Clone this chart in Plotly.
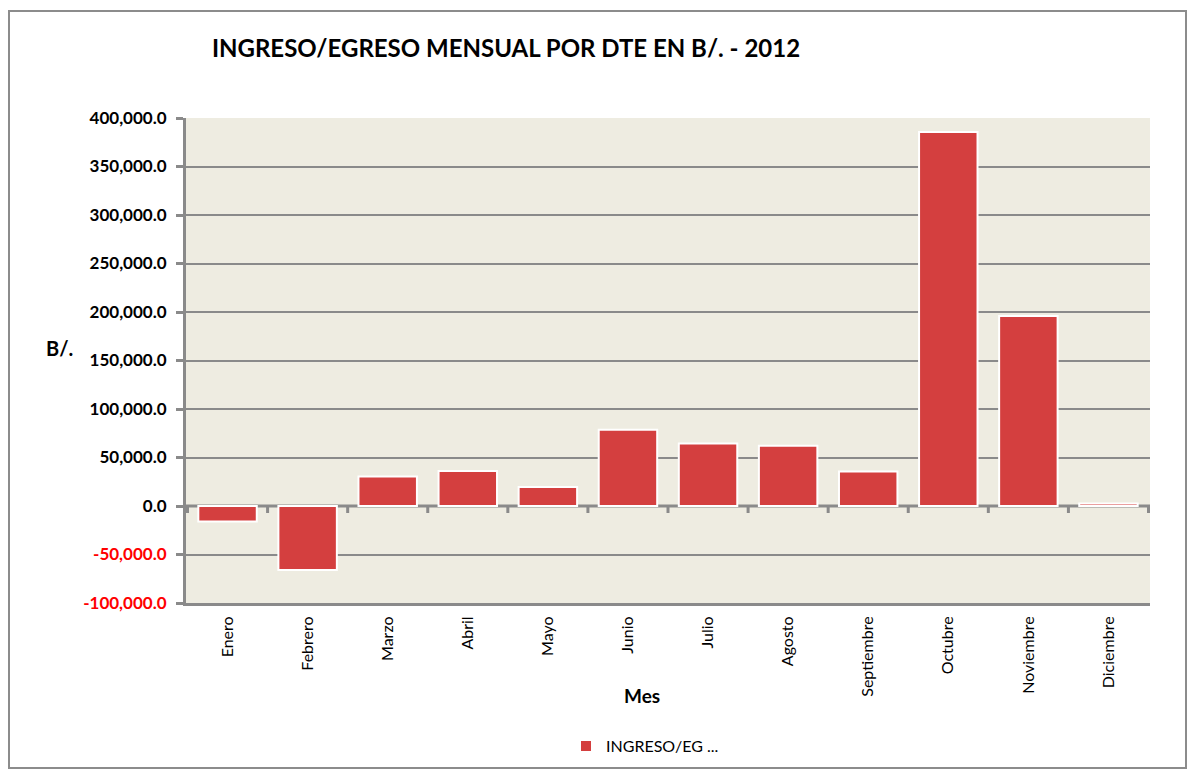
import plotly.graph_objects as go

months = ["Enero", "Febrero", "Marzo", "Abril", "Mayo", "Junio", "Julio",
          "Agosto", "Septiembre", "Octubre", "Noviembre", "Diciembre"]
values = [-16000, -66000, 30500, 36000, 19500, 78500, 64500,
          62000, 35500, 385500, 196000, 2500]
y_ticks = [-100000, -50000, 0, 50000, 100000, 150000, 200000,
           250000, 300000, 350000, 400000]
series_name = "INGRESO/EG ..."

FONT = "Lato"
GRID = "#8a8a8a"

# page has an 8px body margin; work in figure coordinates
OFF = 8
FW, FH = 1195 - 2 * OFF, 777 - 2 * OFF


def tick_label(v):
    s = f"<b>{v:,.1f}</b>"
    if v < 0:
        return f"<span style='color:#ff0000'>{s}</span>"
    return s


fig = go.Figure()
fig.add_trace(go.Bar(
    x=months, y=values, name=series_name,
    marker=dict(color="#d43f3f", line=dict(color="white", width=2)),
    showlegend=True,
))

# Plot geometry in figure pixels
L, R, T, B = 186 - OFF, 1150 - OFF, 118 - OFF, 603 - OFF
W, H = R - L, B - T


def px_x(p):
    return (p - OFF - L) / W


def px_y(p):
    return (B - (p - OFF)) / H


shapes = [
    dict(type="rect", xref="paper", yref="paper",
         x0=px_x(OFF + 1), x1=px_x(1186), y0=px_y(768), y1=px_y(11),
         line=dict(color="#8c8c8c", width=2), fillcolor="rgba(0,0,0,0)",
         layer="below"),
    dict(type="line", xref="paper", yref="y", x0=0, x1=1, y0=0, y1=0,
         line=dict(color=GRID, width=3), layer="below"),
]
for i in range(len(months) + 1):
    shapes.append(dict(type="line", xref="x", yref="paper",
                       x0=i - 0.5, x1=i - 0.5,
                       y0=px_y(506), y1=px_y(513),
                       line=dict(color=GRID, width=3)))

fig.update_layout(
    width=FW, height=FH,
    margin=dict(l=L, r=FW - R, t=T, b=FH - B, autoexpand=False),
    paper_bgcolor="white",
    plot_bgcolor="#eeece1",
    font=dict(family=FONT, color="black"),
    title=dict(text="<b>INGRESO/EGRESO MENSUAL POR DTE EN B/. - 2012</b>",
               x=(506 - OFF) / FW, xanchor="center", xref="container",
               y=1 - (49 - OFF) / FH, yanchor="middle", yref="container",
               font=dict(size=24, family=FONT)),
    bargap=0.27,
    shapes=shapes,
    legend=dict(orientation="h", x=px_x(645), xanchor="center", y=px_y(746),
                yanchor="middle", font=dict(size=16, family=FONT),
                itemsizing="constant", itemwidth=30),
    annotations=[
        dict(text="<b>B/.</b>", xref="paper", yref="paper",
             x=px_x(59), y=px_y(348), xanchor="center", yanchor="middle",
             showarrow=False, font=dict(size=20, family=FONT)),
        dict(text="<b>Mes</b>", xref="paper", yref="paper",
             x=px_x(642), y=px_y(695), xanchor="center", yanchor="middle",
             showarrow=False, font=dict(size=19, family=FONT)),
    ],
)

fig.update_yaxes(
    range=[-100000, 400000],
    tickvals=y_ticks,
    ticktext=[tick_label(v) for v in y_ticks],
    tickfont=dict(size=17, family=FONT),
    showgrid=True, gridcolor=GRID, gridwidth=2,
    zeroline=False,
    showline=True, linecolor=GRID, linewidth=3,
    ticks="outside", ticklen=7, tickcolor=GRID, tickwidth=3,
    ticklabelstandoff=6,
)
fig.update_xaxes(
    tickangle=-90,
    tickfont=dict(size=16, family=FONT),
    showline=True, linecolor=GRID, linewidth=3,
    ticks="", showgrid=False,
    ticklabelstandoff=4,
)

fig.write_html("out.html")
